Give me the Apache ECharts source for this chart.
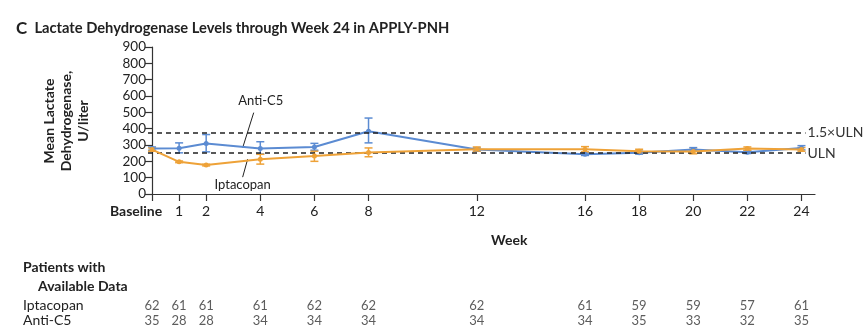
<!DOCTYPE html>
<html><head><meta charset="utf-8">
<script src="https://cdn.jsdelivr.net/npm/echarts@6/dist/echarts.min.js"></script>
<style>html,body{margin:0;padding:0;background:#fff}#c{width:865px;height:329px}</style>
</head><body><div id="c"></div>
<script>
const weeks = [0, 1, 2, 4, 6, 8, 12, 16, 18, 20, 22, 24];
const iptaMean = [272, 197, 177, 213, 232, 254, 274, 274, 262, 260, 278, 272];
const iptaLow  = [262, 192, 172, 183, 200, 228, 262, 258, 250, 246, 268, 262];
const iptaHigh = [282, 202, 182, 243, 262, 282, 288, 290, 274, 274, 288, 284];
const antiMean = [278, 280, 309, 279, 288, 384, 272, 244, 252, 272, 256, 282];
const antiLow  = [268, 252, 258, 245, 268, 313, 262, 236, 244, 262, 248, 270];
const antiHigh = [288, 313, 364, 320, 310, 465, 282, 252, 262, 284, 264, 296];
const nIpta = [62, 61, 61, 61, 62, 62, 62, 61, 59, 59, 57, 61];
const nAnti = [35, 28, 28, 34, 34, 34, 34, 34, 35, 33, 32, 35];
const yTicks = [0, 100, 200, 300, 400, 500, 600, 700, 800, 900];
const ULN = 250;
const ULN15 = 375;

const FONT = 'Lato';
const BLUE = '#5b8bd2';
const ORANGE = '#eea238';
const AX = '#333';

const chart = echarts.init(document.getElementById('c'));

function errSeries(name, low, high, color) {
  return {
    type: 'custom', name: name, xAxisIndex: 0, yAxisIndex: 0, z: 3,
    data: weeks.map((w, i) => [w, low[i], high[i]]),
    renderItem: function (params, api) {
      const lo = api.coord([api.value(0), api.value(1)]);
      const hi = api.coord([api.value(0), api.value(2)]);
      const cw = 4;
      const st = { stroke: color, lineWidth: 1.5 };
      return { type: 'group', children: [
        { type: 'line', shape: { x1: lo[0], y1: lo[1], x2: hi[0], y2: hi[1] }, style: st },
        { type: 'line', shape: { x1: lo[0] - cw, y1: lo[1], x2: lo[0] + cw, y2: lo[1] }, style: st },
        { type: 'line', shape: { x1: hi[0] - cw, y1: hi[1], x2: hi[0] + cw, y2: hi[1] }, style: st }
      ]};
    }
  };
}

const refLabel = { position: 'end', distance: 2, fontSize: 14, color: '#333', fontFamily: FONT };

const option = {
  animation: false,
  textStyle: { fontFamily: FONT },
  title: {
    text: '{c|C}  Lactate Dehydrogenase Levels through Week 24 in APPLY-PNH',
    left: 11, top: 15,
    textStyle: { fontFamily: FONT, fontSize: 14.7, fontWeight: 'bold', color: '#222',
      rich: { c: { fontFamily: FONT, fontSize: 17, fontWeight: 'bold', color: '#222' } } }
  },
  grid: [
    { left: 148, right: 50, top: 47, bottom: 135 },
    { left: 148, right: 50, top: 298, height: 30 }
  ],
  xAxis: [
    {
      type: 'value', gridIndex: 0, min: -0.15, max: 24.5,
      axisLine: { lineStyle: { color: AX, width: 1.2 } },
      axisTick: { show: true, length: 7, customValues: weeks, lineStyle: { color: AX, width: 1.2 } },
      axisLabel: {
        customValues: weeks, margin: 10, fontSize: 14, color: '#222', fontFamily: FONT,
        showMinLabel: true, showMaxLabel: true, hideOverlap: false,
        formatter: function (v) { return v === 0 ? '{b|Baseline}' : String(v); },
        rich: { b: { fontWeight: 'bold', fontSize: 14, fontFamily: FONT, color: '#222', padding: [0, 32, 0, 0] } }
      },
      splitLine: { show: false }
    },
    {
      type: 'value', gridIndex: 1, min: -0.15, max: 24.5, show: false
    }
  ],
  yAxis: [
    {
      type: 'value', gridIndex: 0, min: 0, max: 900, interval: 100,
      axisLine: { show: true, lineStyle: { color: AX, width: 1.2 } },
      axisTick: { show: true, length: 7, lineStyle: { color: AX, width: 1.2 } },
      axisLabel: { margin: 2, fontSize: 13.5, color: '#222', fontFamily: FONT,
        showMinLabel: true,
        formatter: v => yTicks.indexOf(v) >= 0 ? String(v) : '' },
      splitLine: { show: false }
    },
    {
      type: 'category', gridIndex: 1, data: ['Anti-C5', 'Iptacopan'],
      axisLine: { show: false }, axisTick: { show: false },
      axisLabel: { interval: 0, hideOverlap: false, align: 'left', margin: 125, fontSize: 14, color: '#222', fontFamily: FONT }
    }
  ],
  series: [
    errSeries('antiErr', antiLow, antiHigh, BLUE),
    errSeries('iptaErr', iptaLow, iptaHigh, ORANGE),
    {
      type: 'line', name: 'Anti-C5', z: 4,
      data: weeks.map((w, i) => [w, antiMean[i]]),
      lineStyle: { color: BLUE, width: 2 }, itemStyle: { color: BLUE },
      symbol: 'circle', symbolSize: 5,
      markLine: {
        silent: true, symbol: 'none',
        lineStyle: { color: '#222', type: [5, 4], width: 1.5 },
        data: [
          [{ coord: [-0.15, ULN15], label: Object.assign({ formatter: '1.5×ULN' }, refLabel) }, { coord: [24.15, ULN15] }],
          [{ coord: [-0.15, ULN], label: Object.assign({ formatter: 'ULN' }, refLabel) }, { coord: [24.15, ULN] }]
        ]
      }
    },
    {
      type: 'line', name: 'Iptacopan', z: 5,
      data: weeks.map((w, i) => [w, iptaMean[i]]),
      lineStyle: { color: ORANGE, width: 2 }, itemStyle: { color: ORANGE },
      symbol: 'circle', symbolSize: 5
    },
    {
      type: 'scatter', xAxisIndex: 1, yAxisIndex: 1, symbolSize: 0,
      data: weeks.map((w, i) => [w, 'Iptacopan', nIpta[i]]),
      label: { show: true, position: 'inside', formatter: p => String(p.value[2]),
        fontSize: 13, color: '#333', fontFamily: FONT }
    },
    {
      type: 'scatter', xAxisIndex: 1, yAxisIndex: 1, symbolSize: 0,
      data: weeks.map((w, i) => [w, 'Anti-C5', nAnti[i]]),
      label: { show: true, position: 'inside', formatter: p => String(p.value[2]),
        fontSize: 13, color: '#333', fontFamily: FONT }
    }
  ]
};
chart.setOption(option);

// annotations anchored to data coordinates
const a1 = chart.convertToPixel({ gridIndex: 0 }, [3.35, 290]);
const a2 = chart.convertToPixel({ gridIndex: 0 }, [3.2, 195]);
const wk = chart.convertToPixel({ gridIndex: 0 }, [13.2, 0]);
chart.setOption({
  graphic: [
    { type: 'text', x: wk[0], y: wk[1] + 46, style: { text: 'Week', font: 'bold 14px ' + FONT, fill: '#222', align: 'center', verticalAlign: 'middle' } },
    { type: 'text', left: 23, top: 260, style: { text: 'Patients with', font: 'bold 14px ' + FONT, fill: '#222' } },
    { type: 'text', left: 38, top: 279, style: { text: 'Available Data', font: 'bold 14px ' + FONT, fill: '#222' } },
    { type: 'text', x: 66, y: 121, rotation: Math.PI / 2,
      style: { text: 'Mean Lactate\nDehydrogenase,\nU/liter', font: 'bold 14px ' + FONT, fill: '#222',
        align: 'center', verticalAlign: 'middle', lineHeight: 17 } },
    { type: 'line', shape: { x1: a1[0], y1: a1[1] + 1, x2: a1[0] + 11, y2: a1[1] - 34 }, style: { stroke: '#222', lineWidth: 1 } },
    { type: 'text', x: a1[0] + 18, y: a1[1] - 46, style: { text: 'Anti-C5', font: '13px ' + FONT, fill: '#222', align: 'center', verticalAlign: 'middle' } },
    { type: 'line', shape: { x1: a2[0] + 9, y1: a2[1] - 3, x2: a2[0] + 4, y2: a2[1] + 15 }, style: { stroke: '#222', lineWidth: 1 } },
    { type: 'text', x: a2[0] + 4, y: a2[1] + 23, style: { text: 'Iptacopan', font: '13px ' + FONT, fill: '#222', align: 'center', verticalAlign: 'middle' } }
  ]
});
</script>
</body></html>
